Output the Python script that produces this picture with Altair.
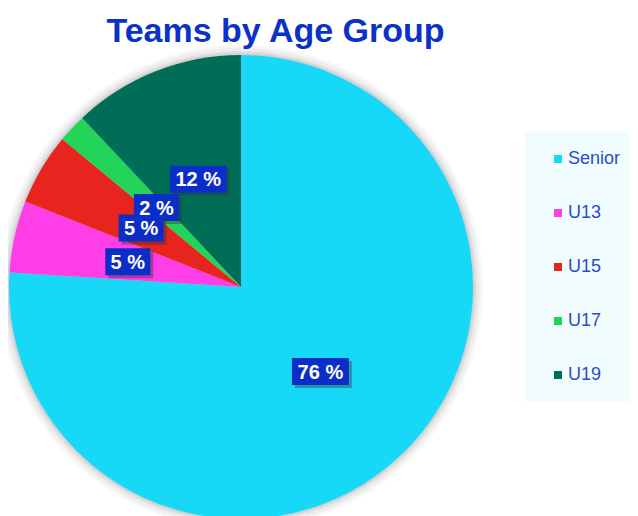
import altair as alt
import pandas as pd

groups = ["Senior", "U13", "U15", "U17", "U19"]
shares = [76, 5, 5, 2, 12]
labels = ["76 %", "5 %", "5 %", "2 %", "12 %"]
colors = ["#18d8f8", "#ff3ee8", "#e8241e", "#22d55a", "#006e56"]

df = pd.DataFrame({"group": groups, "share": shares, "label": labels,
                   "idx": list(range(len(groups)))})

R = 232
CX, CY = 232, 232
FONT = "Liberation Sans"

base = alt.Chart(df)

theta = alt.Theta("share:Q", stack=True)
order = alt.Order("idx:O")

# soft glow/shadow around pie
glow_layers = []
for r, op in [(242, 0.03), (239, 0.04), (236, 0.05), (234, 0.06)]:
    glow_layers.append(
        base.mark_arc(radius=r, strokeWidth=0, color="#000000", opacity=op).encode(
            theta=theta, order=order, x=alt.value(CX), y=alt.value(CY)
        )
    )

pie = base.mark_arc(radius=R, strokeWidth=0).encode(
    theta=theta,
    order=order,
    x=alt.value(CX),
    y=alt.value(CY),
    color=alt.Color(
        "group:N",
        sort=groups,
        scale=alt.Scale(domain=groups, range=colors),
        legend=alt.Legend(
            title=None, orient="none", legendX=516, legendY=77,
            symbolType="square", symbolSize=64, symbolStrokeWidth=0,
            labelFont=FONT, labelFontSize=18, labelColor="#2a4bcc",
            fillColor="#f0fcfe", padding=18, rowPadding=36,
            symbolOffset=6, labelOffset=1,
        ),
    ),
)

lab = base.transform_joinaggregate(total="sum(share)").transform_window(
    cum="sum(share)", sort=[alt.SortField("idx")], frame=[None, 0]
).transform_calculate(
    mid="(datum.cum - datum.share/2) / datum.total * 2 * PI",
    lx="0.5 * sin(datum.mid)",
    ly="0.5 * cos(datum.mid)",
    kind="length(datum.label) > 3 ? 'long' : 'short'",
    kind_s="length(datum.label) > 3 ? 'long_s' : 'short_s'",
)

xs = alt.X("lx:Q", scale=alt.Scale(domain=[-1, 1], range=[0, 2 * R]), axis=None)
ys = alt.Y("ly:Q", scale=alt.Scale(domain=[-1, 1], range=[2 * R, 0]), axis=None)

paths = [
    "M-0.95,-0.45H0.95V0.45H-0.95Z",
    "M-0.75,-0.45H0.75V0.45H-0.75Z",
    "M-0.85,-0.35H1.05V0.55H-0.85Z",
    "M-0.65,-0.35H0.85V0.55H-0.65Z",
]
shape_scale = alt.Scale(domain=["long", "short", "long_s", "short_s"], range=paths)

shadow = lab.mark_point(filled=True, size=3600, strokeWidth=0, color="#333333", opacity=0.4).encode(
    x=xs, y=ys, shape=alt.Shape("kind_s:N", scale=shape_scale, legend=None)
)
box = lab.mark_point(filled=True, size=3600, strokeWidth=0, color="#0b2ec6", opacity=1).encode(
    x=xs, y=ys, shape=alt.Shape("kind:N", scale=shape_scale, legend=None)
)
txt = lab.mark_text(font=FONT, fontWeight="bold", fontSize=20, color="white",
                    align="center", baseline="middle", dy=1).encode(
    x=xs, y=ys, text="label:N"
)

chart = alt.layer(*glow_layers, pie, shadow, box, txt).properties(
    width=533,
    height=462,
    autosize=alt.AutoSizeParams(type="none"),
    padding={"left": 1, "top": 47, "right": 88, "bottom": 0},
    title=alt.Title("Teams by Age Group", font=FONT, fontSize=34, fontWeight="bold",
                    color="#0a32c8", anchor="middle", offset=8, dy=12),
).configure_view(stroke=None)

chart.save("out.html", embed_options={"renderer": "svg", "actions": False})
